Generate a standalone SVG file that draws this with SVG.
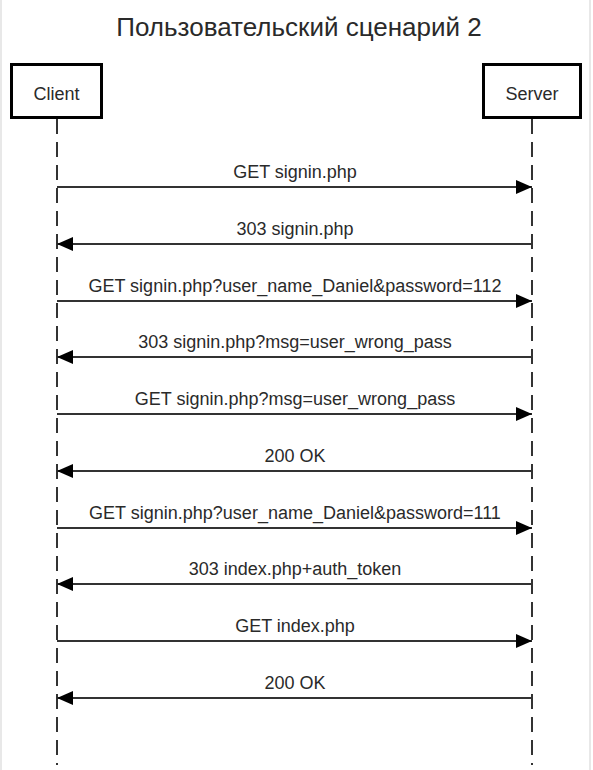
<svg xmlns="http://www.w3.org/2000/svg" width="593" height="770" viewBox="0 0 593 770">
  <defs>
    <marker id="ah" markerWidth="17" markerHeight="16" refX="16" refY="7" orient="auto" markerUnits="userSpaceOnUse">
      <path d="M0,0 L16,7 L0,14 Z" fill="#000"/>
    </marker>
  </defs>
  <style>
    .title { font-family: "Liberation Sans", Arial, sans-serif; font-size: 26px; fill: #2a2a2a; text-anchor: middle; }
    .lbl { font-family: "Liberation Sans", Arial, sans-serif; font-size: 18px; fill: #2a2a2a; text-anchor: middle; }
    .box { fill: #fff; stroke: #000; stroke-width: 3; }
    .life { stroke: #333; stroke-width: 2; stroke-dasharray: 15 8; fill: none; }
    .msg { stroke: #333; stroke-width: 2; fill: none; marker-end: url(#ah); }
  </style>
  <rect x="0" y="0" width="593" height="770" fill="#fff"/>
  <line x1="1" y1="0" x2="1" y2="770" stroke="#e8e8e8" stroke-width="2"/>
  <line x1="590" y1="0" x2="590" y2="770" stroke="#e8e8e8" stroke-width="2"/>
  <text class="title" x="299" y="36">Пользовательский сценарий 2</text>

  <g id="lifelines">
    <line class="life" x1="57" y1="119" x2="57" y2="765"/>
    <line class="life" x1="532" y1="119" x2="532" y2="765"/>
  </g>

  <g id="client">
    <rect class="box" x="11.5" y="64.5" width="90" height="53"/>
    <text class="lbl" x="56.5" y="100">Client</text>
  </g>
  <g id="server">
    <rect class="box" x="483.5" y="64.5" width="97" height="53"/>
    <text class="lbl" x="532" y="100">Server</text>
  </g>

  <g id="connectors">
    <line class="msg" x1="57" y1="187" x2="532" y2="187"/>
    <text class="lbl" x="295" y="178">GET signin.php</text>
    <line class="msg" x1="532" y1="244" x2="57" y2="244"/>
    <text class="lbl" x="295" y="235">303 signin.php</text>
    <line class="msg" x1="57" y1="301" x2="532" y2="301"/>
    <text class="lbl" x="295" y="292">GET signin.php?user_name_Daniel&amp;password=112</text>
    <line class="msg" x1="532" y1="357" x2="57" y2="357"/>
    <text class="lbl" x="295" y="348">303 signin.php?msg=user_wrong_pass</text>
    <line class="msg" x1="57" y1="414" x2="532" y2="414"/>
    <text class="lbl" x="295" y="405">GET signin.php?msg=user_wrong_pass</text>
    <line class="msg" x1="532" y1="471" x2="57" y2="471"/>
    <text class="lbl" x="295" y="462">200 OK</text>
    <line class="msg" x1="57" y1="528" x2="532" y2="528"/>
    <text class="lbl" x="295" y="519">GET signin.php?user_name_Daniel&amp;password=111</text>
    <line class="msg" x1="532" y1="584" x2="57" y2="584"/>
    <text class="lbl" x="295" y="575">303 index.php+auth_token</text>
    <line class="msg" x1="57" y1="641" x2="532" y2="641"/>
    <text class="lbl" x="295" y="632">GET index.php</text>
    <line class="msg" x1="532" y1="698" x2="57" y2="698"/>
    <text class="lbl" x="295" y="689">200 OK</text>
  </g>
</svg>
